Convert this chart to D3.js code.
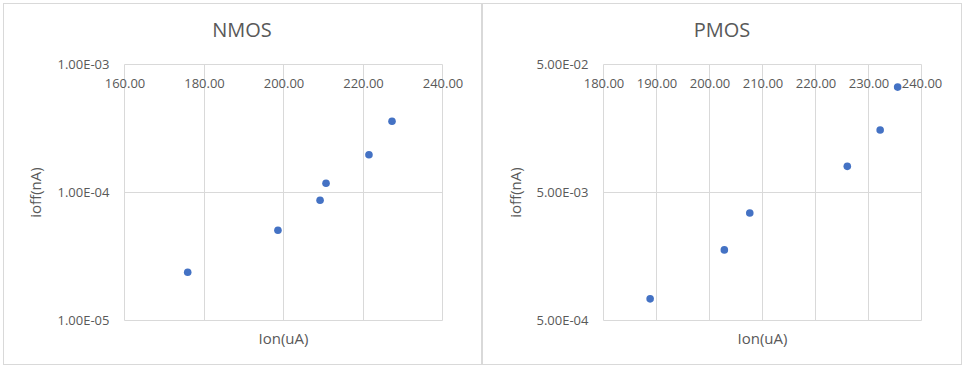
<!DOCTYPE html>
<html>
<head>
<meta charset="utf-8">
<script src="https://cdn.jsdelivr.net/npm/d3@7"></script>
<style>
  html, body { margin: 0; padding: 0; background: #fff; }
  svg { display: block; }
  text { font-family: "Open Sans", "Liberation Sans", Arial, sans-serif; fill: #595959; }
</style>
</head>
<body>
<svg id="chart" width="966" height="369"></svg>
<script>
// ---- data ----
const nmosIon  = [175.9, 198.6, 209.2, 210.7, 221.5, 227.3];
const nmosIoff = [2.38e-5, 5.07e-5, 8.7e-5, 1.18e-4, 1.97e-4, 3.6e-4];
const pmosIon  = [188.8, 202.8, 207.6, 226.0, 232.2, 235.5];
const pmosIoff = [7.38e-4, 1.78e-3, 3.46e-3, 8.0e-3, 1.54e-2, 3.33e-2];

const nmosXTicks = [160, 180, 200, 220, 240];
const nmosYTicks = [1e-5, 1e-4, 1e-3];
const pmosXTicks = [180, 190, 200, 210, 220, 230, 240];
const pmosYTicks = [5e-4, 5e-3, 5e-2];

const titles = ["NMOS", "PMOS"];
const xTitle = "Ion(uA)";
const yTitle = "ioff(nA)";

// ---- layout ----
const svg = d3.select("#chart");
const gridColor = "#d9d9d9";
const dotColor = "#4472C4";

function fmtExp(v) {
  const [m, e] = v.toExponential(2).toUpperCase().split("E");
  const sign = e[0] === "-" ? "-" : "+";
  const digits = e.replace(/[+-]/, "").padStart(2, "0");
  return m + "E" + sign + digits;
}

const panels = [
  { box: [3.5, 481.5], plot: [124.5, 442.5], xs: nmosIon, ys: nmosIoff,
    xt: nmosXTicks, yt: nmosYTicks, title: titles[0], cx: 242, ylabX: 41 },
  { box: [482.5, 961.5], plot: [603.5, 921.5], xs: pmosIon, ys: pmosIoff,
    xt: pmosXTicks, yt: pmosYTicks, title: titles[1], cx: 722, ylabX: 521 }
];

const plotTop = 64.5, plotBottom = 320.5;

panels.forEach(p => {
  // outer box
  svg.append("rect")
    .attr("x", p.box[0]).attr("y", 3.5)
    .attr("width", p.box[1] - p.box[0]).attr("height", 361)
    .attr("fill", "none").attr("stroke", gridColor).attr("stroke-width", 1);

  const x = d3.scaleLinear().domain(d3.extent(p.xt)).range(p.plot);
  const y = d3.scaleLog().domain(d3.extent(p.yt)).range([plotBottom, plotTop]);

  const g = svg.append("g");

  // gridlines
  g.selectAll(".vg").data(p.xt).join("line")
    .attr("x1", d => Math.round(x(d) - 0.5) + 0.5).attr("x2", d => Math.round(x(d) - 0.5) + 0.5)
    .attr("y1", plotTop).attr("y2", plotBottom)
    .attr("stroke", gridColor).attr("stroke-width", 1);
  g.selectAll(".hg").data(p.yt).join("line")
    .attr("x1", p.plot[0]).attr("x2", p.plot[1])
    .attr("y1", d => Math.round(y(d) - 0.5) + 0.5).attr("y2", d => Math.round(y(d) - 0.5) + 0.5)
    .attr("stroke", gridColor).attr("stroke-width", 1);

  // x axis labels (axis crosses at top)
  const xa = g.append("g").attr("transform", `translate(0,${plotTop})`)
    .call(d3.axisBottom(x).tickValues(p.xt).tickSize(0).tickPadding(14.5).tickFormat(d3.format(".2f")));
  xa.select(".domain").remove();
  xa.attr("font-family", null).attr("font-size", null);
  xa.selectAll("text").attr("font-size", 13).attr("fill", "#595959");

  // y axis labels
  const ya = g.append("g").attr("transform", `translate(${p.plot[0]},0)`)
    .call(d3.axisLeft(y).tickValues(p.yt).tickSize(0).tickPadding(15).tickFormat(fmtExp));
  ya.select(".domain").remove();
  ya.attr("font-family", null).attr("font-size", null);
  ya.selectAll("text").attr("font-size", 13).attr("fill", "#595959");

  // points
  g.selectAll("circle").data(p.xs.map((v, i) => [v, p.ys[i]])).join("circle")
    .attr("cx", d => x(d[0])).attr("cy", d => y(d[1]))
    .attr("r", 3.8).attr("fill", dotColor);

  // titles
  svg.append("text").attr("x", p.cx).attr("y", 36.5)
    .attr("text-anchor", "middle").attr("font-size", 20).text(p.title);
  svg.append("text").attr("x", (p.plot[0] + p.plot[1]) / 2).attr("y", 344)
    .attr("text-anchor", "middle").attr("font-size", 15).text(xTitle);
  svg.append("text")
    .attr("transform", `translate(${p.ylabX},${(plotTop + plotBottom) / 2}) rotate(-90)`)
    .attr("text-anchor", "middle").attr("font-size", 15).text(yTitle);
});
</script>
</body>
</html>
